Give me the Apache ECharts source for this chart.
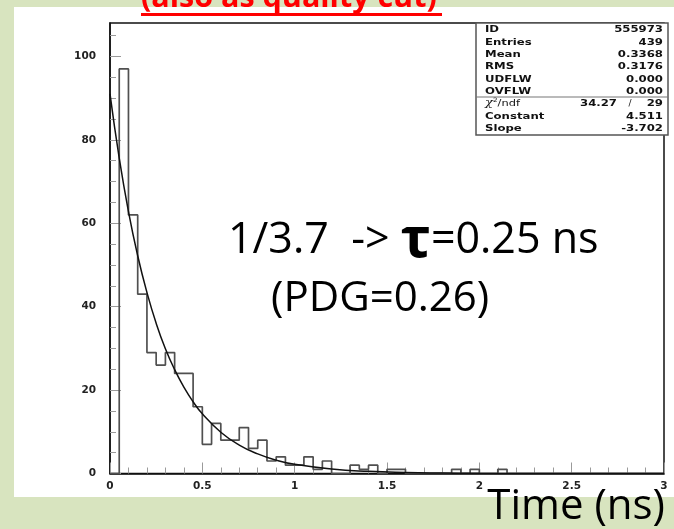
<!DOCTYPE html>
<html><head><meta charset="utf-8">
<script src="https://cdn.jsdelivr.net/npm/echarts@6/dist/echarts.min.js"></script>
<style>
html,body{margin:0;padding:0;background:#d8e4bf;overflow:hidden;}
#bg{position:absolute;left:14px;top:7px;width:660px;height:490px;background:#fff;}
#c{position:absolute;left:0;top:0;width:674px;height:529px;}
</style>
</head><body><div id="bg"></div><div id="c"></div>
<script>
// Histogram: bin width and counts per bin (bins start at 0)
const binWidth = 0.05;
const binCounts = [0,97,62,43,29,26,29,24,24,16,7,12,8,8,11,6,8,3,4,2,
                   2,4,1,3,0,0,2,1,2,0,1,1,0,0,0,0,0,1,0,1,
                   0,0,1,0,0,0,0,0,0,0,0,0,0,0,0,0,0,0,0,0];
// Fit curve
const fitX = [0,0.05,0.1,0.15,0.2,0.25,0.3,0.35,0.4,0.45,0.5,0.6,0.7,0.8,0.9,1.0,1.2,1.4,1.6,1.8,2.0,2.5,3.0];
const fitY = [91.0,75.6,62.8,52.2,43.4,36.0,29.9,24.9,20.7,17.2,14.3,9.9,6.8,4.7,3.2,2.2,1.07,0.51,0.24,0.12,0.055,0.009,0.0014];
// Axis ticks
const xTicks = [0,0.5,1,1.5,2,2.5,3];
const yTicks = [0,20,40,60,80,100];
const yMinorTicks = [5,10,15,25,30,35,45,50,55,65,70,75,85,90,95,105];
// Stats box
const statLabels = ['ID','Entries','Mean','RMS','UDFLW','OVFLW'];
const statValues = ['555973','439','0.3368','0.3176','0.000','0.000'];
const fitLabels = ['Constant','Slope'];
const fitValues = ['4.511','-3.702'];
const chi2 = '34.27', ndf = '29';

const histData = binCounts.map((c,i)=>[i*binWidth, c]);
histData.push([binCounts.length*binWidth, 0]);
const fitData = fitX.map((x,i)=>[x, fitY[i]]);

const tickColor = '#9a9a9a';
const labelFont = {fontFamily:'DejaVu Sans', fontWeight:'bold', fontSize:10.5, color:'#222'};

const statFont = 'bold 9px "DejaVu Sans"';
const SX = 1.3;
const graphics = [];
graphics.push({type:'rect', shape:{x:476,y:23,width:192,height:112}, style:{fill:'#fff', stroke:'#555', lineWidth:1.5}, z:10});
graphics.push({type:'line', shape:{x1:476,y1:97,x2:668,y2:97}, style:{stroke:'#777', lineWidth:1.2}, z:11});
const rowY = [30,42.3,54.6,66.9,79.2,91.2];
statLabels.forEach((t,i)=>{
  graphics.push({type:'text', x:485, y:rowY[i], scaleX:SX, z:12, style:{text:t, font:statFont, fill:'#111', align:'left', verticalAlign:'middle'}});
  graphics.push({type:'text', x:663, y:rowY[i], scaleX:SX, z:12, style:{text:statValues[i], font:statFont, fill:'#111', align:'right', verticalAlign:'middle'}});
});
graphics.push({type:'text', x:485, y:103.5, scaleX:1.2, z:12, style:{text:'{c|χ}{s|2}{n|/ndf}', rich:{c:{font:'italic 11px "DejaVu Serif"', fill:'#111'}, s:{font:'6px "DejaVu Sans"', fill:'#111', verticalAlign:'top', padding:[0,0,6,0]}, n:{font:'9.5px "DejaVu Sans"', fill:'#111'}}, verticalAlign:'middle'}});
graphics.push({type:'text', x:617, y:103.5, scaleX:SX, z:12, style:{text:chi2, font:statFont, fill:'#111', align:'right', verticalAlign:'middle'}});
graphics.push({type:'text', x:630, y:103.5, z:12, style:{text:'/', font:'9px "DejaVu Sans"', fill:'#111', align:'center', verticalAlign:'middle'}});
graphics.push({type:'text', x:663, y:103.5, scaleX:SX, z:12, style:{text:ndf, font:statFont, fill:'#111', align:'right', verticalAlign:'middle'}});
const fitRowY = [116.3,128.4];
fitLabels.forEach((t,i)=>{
  graphics.push({type:'text', x:485, y:fitRowY[i], scaleX:SX, z:12, style:{text:t, font:statFont, fill:'#111', align:'left', verticalAlign:'middle'}});
  graphics.push({type:'text', x:663, y:fitRowY[i], scaleX:SX, z:12, style:{text:fitValues[i], font:statFont, fill:'#111', align:'right', verticalAlign:'middle'}});
});
// Red title (cut at top)
graphics.push({type:'text', x:141, y:-2, z:12, style:{text:'(also as quality cut)', font:'bold 30.5px "Open Sans"', fill:'#ff0000', align:'left', verticalAlign:'middle'}});
graphics.push({type:'rect', shape:{x:141,y:13,width:301,height:3}, style:{fill:'#ff0000'}, z:12});
// Annotations
graphics.push({type:'text', x:228, y:241, z:12, style:{text:'{a|1/3.7  -> }{t|τ}{a|=0.25 ns}', rich:{a:{font:'43px "Open Sans"', fill:'#000'}, t:{font:'bold 56px "Open Sans"', fill:'#000'}}, verticalAlign:'middle'}});
graphics.push({type:'text', x:271, y:299, z:12, style:{text:'(PDG=0.26)', font:'42px "Open Sans"', fill:'#000', verticalAlign:'middle'}});
graphics.push({type:'text', x:665, y:507, z:12, style:{text:'Time (ns)', font:'42px "Open Sans"', fill:'#000', align:'right', verticalAlign:'middle'}});

const chart = echarts.init(document.getElementById('c'));
chart.setOption({
  animation:false,
  grid:{left:110, right:10, top:23, bottom:55.5, show:true, borderColor:'#111', borderWidth:1.5, backgroundColor:'transparent'},
  xAxis:{type:'value', min:0, max:3, interval:0.5,
    axisLine:{lineStyle:{color:'#111', width:1.5}},
    axisTick:{inside:true, length:11, lineStyle:{color:tickColor}},
    minorTick:{show:true, splitNumber:5, length:6, lineStyle:{color:tickColor}},
    splitLine:{show:false}, minorSplitLine:{show:false},
    axisLabel:Object.assign({margin:7, customValues:xTicks, formatter:v=>String(v)}, labelFont)},
  yAxis:[
    {type:'value', min:0, max:108,
      axisLine:{show:true, lineStyle:{color:'#111', width:1.5}},
      axisTick:{show:true, inside:true, length:6, customValues:yMinorTicks, lineStyle:{color:tickColor}},
      splitLine:{show:false},
      axisLabel:Object.assign({margin:14, customValues:yTicks}, labelFont)},
    {type:'value', min:0, max:108, position:'left',
      axisLine:{show:false},
      axisTick:{show:true, inside:true, length:11, customValues:yTicks, lineStyle:{color:tickColor}},
      splitLine:{show:false}, axisLabel:{show:false}}
  ],
  series:[
    {type:'line', data:histData, step:'end', showSymbol:false, symbol:'none', yAxisIndex:0,
      lineStyle:{color:'#505050', width:1.7}, z:3},
    {type:'line', data:fitData, smooth:true, showSymbol:false, symbol:'none', yAxisIndex:0,
      lineStyle:{color:'#111', width:1.5}, z:4}
  ],
  graphic:graphics
});
</script>
</body></html>
